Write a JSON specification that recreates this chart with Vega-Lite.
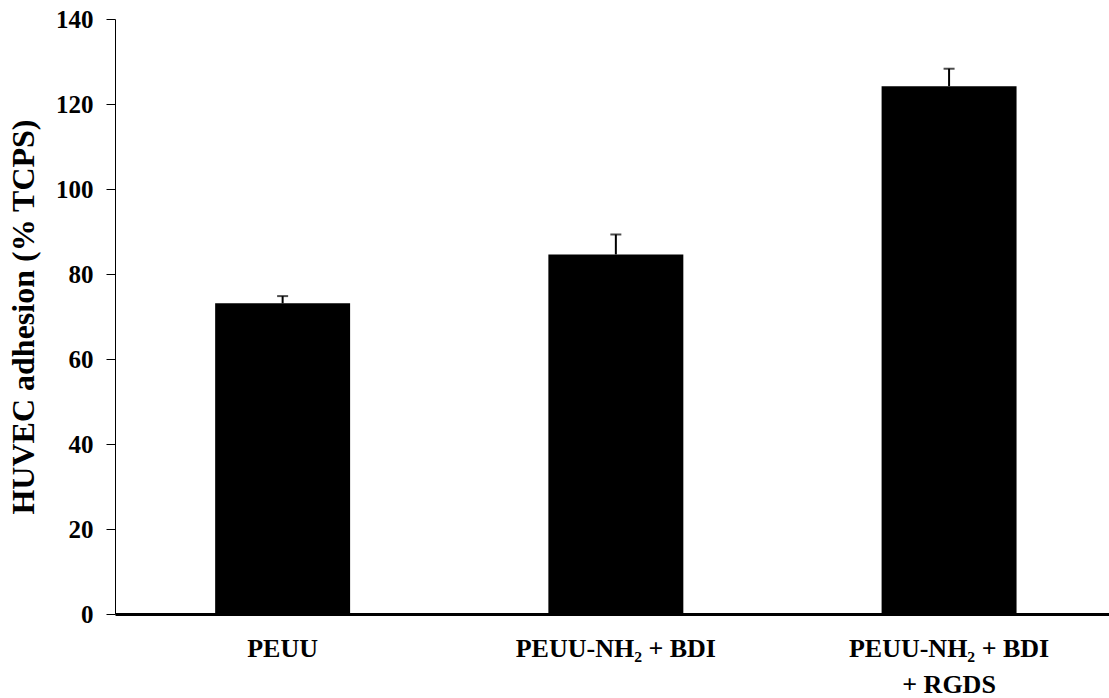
{
  "$schema": "https://vega.github.io/schema/vega-lite/v6.json",
  "width": 994,
  "height": 595,
  "autosize": {"type": "none"},
  "padding": {"left": 115, "top": 19, "right": 0, "bottom": 84},
  "background": "white",
  "config": {
    "view": {"stroke": null},
    "font": "Liberation Serif"
  },
  "data": {
    "values": [
      {"surface": "PEUU", "adhesion": 73.1, "upper": 74.8},
      {"surface": "PEUU-NH₂ + BDI", "adhesion": 84.6, "upper": 89.3},
      {"surface": "PEUU-NH₂ + BDI + RGDS", "adhesion": 124.2, "upper": 128.3}
    ]
  },
  "encoding": {
    "x": {
      "field": "surface",
      "type": "nominal",
      "sort": null,
      "scale": {"paddingInner": 0.595, "paddingOuter": 0.289, "align": 0.52},
      "axis": {
        "title": null,
        "labelAngle": 0,
        "labelFont": "Liberation Serif",
        "labelFontWeight": "bold",
        "labelFontSize": 26,
        "labelColor": "black",
        "labelPadding": 21,
        "labelLineHeight": 36,
        "labelLimit": 0,
        "labelExpr": "datum.value == 'PEUU-NH₂ + BDI + RGDS' ? ['PEUU-NH₂ + BDI', '+ RGDS'] : datum.value",
        "ticks": false,
        "domainColor": "black",
        "domainWidth": 3
      }
    }
  },
  "layer": [
    {
      "mark": {"type": "bar", "color": "black"},
      "encoding": {
        "y": {
          "field": "adhesion",
          "type": "quantitative",
          "scale": {"domain": [0, 140], "nice": false},
          "axis": {
            "title": "HUVEC adhesion (% TCPS)",
            "titleFont": "Liberation Serif",
            "titleFontWeight": "bold",
            "titleFontSize": 32,
            "titleColor": "black",
            "titlePadding": 15,
            "values": [0, 20, 40, 60, 80, 100, 120, 140],
            "grid": false,
            "labelFont": "Liberation Serif",
            "labelFontWeight": "bold",
            "labelFontSize": 25,
            "labelColor": "black",
            "labelPadding": 13,
            "tickSize": 9,
            "tickColor": "black",
            "domainColor": "black",
            "domainWidth": 1
          }
        }
      }
    },
    {
      "mark": {"type": "rule", "color": "black", "strokeWidth": 2},
      "encoding": {
        "y": {"field": "adhesion", "type": "quantitative"},
        "y2": {"field": "upper"}
      }
    },
    {
      "mark": {"type": "tick", "color": "black", "size": 11, "thickness": 2},
      "encoding": {
        "y": {"field": "upper", "type": "quantitative"}
      }
    }
  ]
}
